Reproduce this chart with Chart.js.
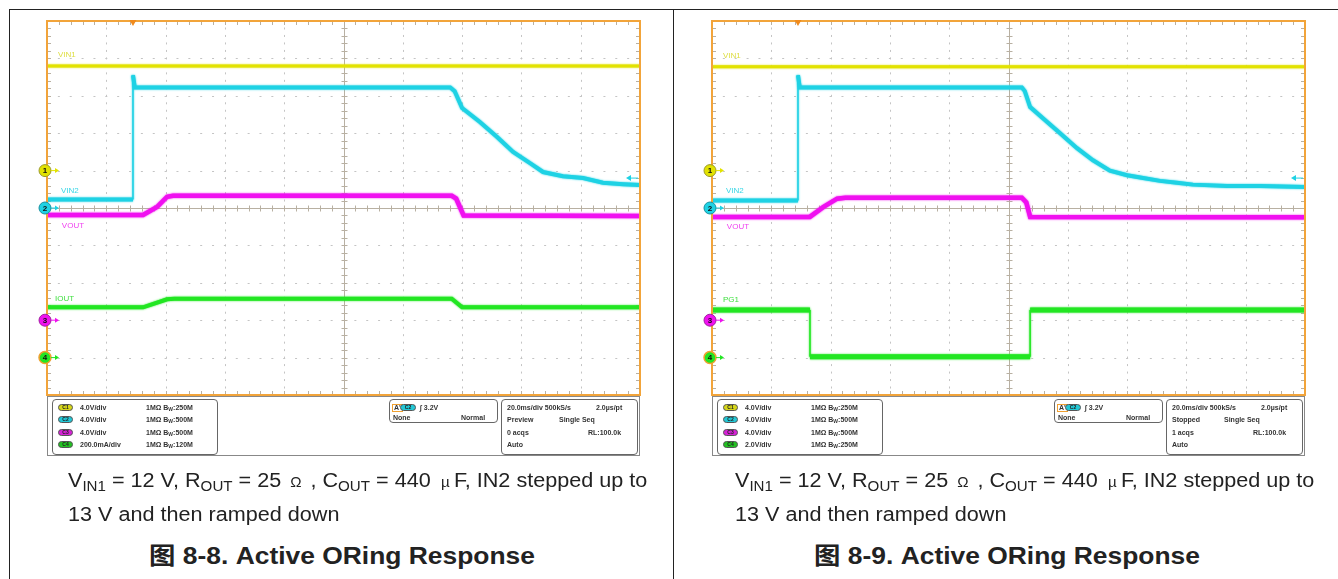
<!DOCTYPE html>
<html>
<head>
<meta charset="utf-8">
<script src="https://cdn.jsdelivr.net/npm/chart.js@4.4.1/dist/chart.umd.min.js"></script>
<style>
  body { margin:0; background:#fff; width:1338px; height:579px; overflow:hidden; position:relative; font-family:"Liberation Sans", Arial, sans-serif; }
  .frame { position:absolute; left:9px; top:9px; width:1340px; height:600px; border:1px solid #222; box-sizing:border-box; }
  .divider { position:absolute; left:673px; top:9px; width:1px; height:570px; background:#222; }
  .panel { position:absolute; top:0; width:683px; height:579px; }
  .panel canvas { position:absolute; left:27px; top:12px; }
  .status { position:absolute; left:47px; top:396px; width:593px; height:60px; border:1px solid #888; box-sizing:border-box; }
  .box { position:absolute; border:1px solid #666; border-radius:4px; box-sizing:border-box; }
  .t { position:absolute; font:bold 7px "Liberation Sans", Arial, sans-serif; color:#333; white-space:nowrap; line-height:8px; }
  .t sub { font-size:5px; vertical-align:-1px; line-height:0; }
  .pill { position:absolute; width:15px; height:7px; border-radius:4px; border:1px solid #555; box-sizing:border-box; font:bold 5px "Liberation Sans", Arial, sans-serif; color:#222; text-align:center; line-height:5px; }
  .cap { position:absolute; font:20px "Liberation Sans", Arial, sans-serif; color:#222; line-height:32px; white-space:nowrap; transform:scaleX(1.08); transform-origin:0 0; }
  .cap sub { font-size:14px; vertical-align:-4px; line-height:0; }
  .cap .sym { font-size:14px; display:inline-block; width:16px; text-align:center; }
  .title { position:absolute; font:bold 24px "Liberation Sans", "Noto Sans CJK SC", Arial, sans-serif; color:#222; text-align:center; line-height:26px; transform:scaleX(1.1); transform-origin:50% 0; }
</style>
</head>
<body>
<div class="frame"></div>
<div class="divider"></div>

<div class="panel" style="left:0">
  <canvas id="scopeA" width="625" height="390"></canvas>
  <div class="status" id="statusA"></div>
  <div class="cap" style="left:68px; top:464px">V<sub>IN1</sub> = 12 V, R<sub>OUT</sub> = 25 <span class="sym">Ω</span> , C<sub>OUT</sub> = 440 <span class="sym">µ</span>F, IN2 stepped up to<br>13 V and then ramped down</div>
  <div class="title" style="left:0; width:684px; top:543px">图 8-8. Active ORing Response</div>
</div>

<div class="panel" style="left:665px">
  <canvas id="scopeB" width="625" height="390"></canvas>
  <div class="status" id="statusB"></div>
  <div class="cap" style="left:70px; top:464px">V<sub>IN1</sub> = 12 V, R<sub>OUT</sub> = 25 <span class="sym">Ω</span> , C<sub>OUT</sub> = 440 <span class="sym">µ</span>F, IN2 stepped up to<br>13 V and then ramped down</div>
  <div class="title" style="left:0; width:684px; top:543px">图 8-9. Active ORing Response</div>
</div>

<script>
// time base (ms), trigger at 0
const timeMin = -29;
const timeMax = 171;
const msPerDiv = 20;

// ---- Fig 8-8 ----
const aVin1T = [-29, 171];
const aVin1V = [11.2, 11.2];
const aVin2T = [-29, 0, 0, 0.6, 107, 108.5, 111, 117, 122.8, 128.2, 133.9, 138.3, 145, 151.8, 158.5, 165.3, 171];
const aVin2V = [0.9, 0.9, 14.2, 12.9, 12.9, 12.5, 10.7, 9.2, 7.6, 6.0, 4.8, 3.85, 3.4, 3.2, 2.7, 2.55, 2.45];
const aVoutT = [-29, 3.4, 8.1, 11.5, 13.5, 107.5, 109, 111.5, 171];
const aVoutV = [11.25, 11.25, 12.1, 13.2, 13.3, 13.3, 13.0, 11.2, 11.15];
const aIoutT = [-29, 3.4, 11.5, 14, 107.5, 111, 171];
const aIoutV = [269, 269, 312, 315, 315, 269, 269];
const aChScale = [4, 4, 4, 200];   // units per division
const aChPos = [1, 0, -3, -4];     // ground marker, div from centre

// ---- Fig 8-9 ----
const bVin1T = [-29, 171];
const bVin1V = [11.1, 11.1];
const bVin2T = [-29, 0, 0, 0.6, 75.5, 76.5, 78.3, 82.6, 88.4, 94.1, 99.5, 105.2, 111, 116.4, 122.1, 127.8, 133.2, 144.7, 155.8, 171];
const bVin2V = [0.8, 0.8, 14.2, 12.9, 12.9, 12.5, 10.8, 9.6, 8.0, 6.4, 5.1, 4.0, 3.5, 3.2, 2.9, 2.7, 2.5, 2.35, 2.35, 2.25];
const bVoutT = [-29, 4, 8.5, 13.2, 16, 75.5, 77, 78.3, 171];
const bVoutV = [11.05, 11.05, 12.1, 13.0, 13.1, 13.1, 12.6, 11.05, 11.0];
const bPgT = [-29, 4.05, 4.05, 78.3, 78.3, 171];
const bPgV = [2.55, 2.55, 0.05, 0.05, 2.55, 2.55];
const bChScale = [4, 4, 4, 2];
const bChPos = [1, 0, -3, -4];

const trigLevel = 3.2; // C2

const chColors = ["#e2e200", "#1ed2e4", "#f010f0", "#22e622"];
const labelColors = ["#dede40", "#38d6e6", "#f040f0", "#40e040"];
const traceWidths = [3, 4, 4.5, 4];

function pts(ts, vs) {
  return ts.map((t, i) => ({ x: t, y: vs[i] }));
}

const gridPlugin = {
  id: "scopeGrid",
  beforeDatasetsDraw(chart) {
    const { ctx, chartArea: a } = chart;
    const xs = chart.scales.x, gs = chart.scales.g;
    ctx.save();
    ctx.fillStyle = "#c4c4c4";
    // dotted division lines
    for (let k = 1; k < 10; k++) {
      if (k === 5) continue;
      const x = Math.round(xs.getPixelForValue(timeMin + k * msPerDiv));
      for (let m = -25; m <= 25; m++) {
        const y = gs.getPixelForValue(m / 5);
        ctx.fillRect(x, y - 1, 1, 2);
      }
    }
    for (let k = -4; k <= 4; k++) {
      if (k === 0) continue;
      const y = Math.round(gs.getPixelForValue(k));
      for (let m = 1; m < 50; m++) {
        const x = xs.getPixelForValue(timeMin + m * msPerDiv / 5);
        ctx.fillRect(x - 1, y, 2, 1);
      }
    }
    // centre crosshair with minor ticks
    const cx = Math.round(xs.getPixelForValue(timeMin + 5 * msPerDiv)) + 0.5;
    const cy = Math.round(gs.getPixelForValue(0)) + 0.5;
    ctx.strokeStyle = "#b8b0a2";
    ctx.lineWidth = 1;
    ctx.beginPath();
    ctx.moveTo(a.left, cy); ctx.lineTo(a.right, cy);
    ctx.moveTo(cx, a.top); ctx.lineTo(cx, a.bottom);
    for (let m = 1; m < 50; m++) {
      const x = Math.round(xs.getPixelForValue(timeMin + m * msPerDiv / 5)) + 0.5;
      ctx.moveTo(x, cy - 3); ctx.lineTo(x, cy + 3);
      ctx.moveTo(x, a.top); ctx.lineTo(x, a.top + 4);
      ctx.moveTo(x, a.bottom); ctx.lineTo(x, a.bottom - 4);
    }
    for (let m = -24; m < 25; m++) {
      const y = Math.round(gs.getPixelForValue(m / 5)) + 0.5;
      ctx.moveTo(cx - 3, y); ctx.lineTo(cx + 3, y);
      ctx.moveTo(a.left, y); ctx.lineTo(a.left + 4, y);
      ctx.moveTo(a.right, y); ctx.lineTo(a.right - 4, y);
    }
    ctx.stroke();
    ctx.restore();
  },
  // soft edge on the traces, like the scope's phosphor blur
  beforeDatasetDraw(chart, args) {
    const ctx = chart.ctx;
    ctx.save();
    ctx.shadowColor = chColors[args.index];
    ctx.shadowBlur = 2;
  },
  afterDatasetDraw(chart) {
    chart.ctx.restore();
  },
  afterDatasetsDraw(chart, args, opts) {
    const { ctx, chartArea: a } = chart;
    const xs = chart.scales.x;
    ctx.save();
    // orange frame
    ctx.strokeStyle = "#f2a43a";
    ctx.lineWidth = 2;
    ctx.strokeRect(a.left, a.top, a.right - a.left, a.bottom - a.top);
    // trigger position
    const tx = xs.getPixelForValue(0);
    ctx.fillStyle = "#f08a1c";
    ctx.beginPath();
    ctx.moveTo(tx - 3.5, a.top - 1); ctx.lineTo(tx + 3.5, a.top - 1); ctx.lineTo(tx, a.top + 5);
    ctx.fill();
    // trigger level arrow on C2
    const ly = chart.scales.c2.getPixelForValue(trigLevel);
    ctx.strokeStyle = chColors[1]; ctx.fillStyle = chColors[1]; ctx.lineWidth = 1;
    ctx.beginPath(); ctx.moveTo(a.right - 12, ly); ctx.lineTo(a.right - 2, ly); ctx.stroke();
    ctx.beginPath(); ctx.moveTo(a.right - 14, ly); ctx.lineTo(a.right - 9, ly - 3); ctx.lineTo(a.right - 9, ly + 3); ctx.fill();
    // channel ground markers
    const rings = ["#9a9a30", "#1890a0", "#a020a0", "#f0a030"];
    for (let i = 0; i < 4; i++) {
      const y = chart.scales["c" + (i + 1)].getPixelForValue(0);
      const x = a.left - 2;
      ctx.beginPath(); ctx.arc(x, y, 6, 0, Math.PI * 2);
      ctx.fillStyle = chColors[i]; ctx.fill();
      ctx.lineWidth = i === 3 ? 1.5 : 1; ctx.strokeStyle = rings[i]; ctx.stroke();
      ctx.fillStyle = "#111"; ctx.font = "bold 8px 'Liberation Sans', Arial";
      ctx.textAlign = "center"; ctx.textBaseline = "middle";
      ctx.fillText(String(i + 1), x, y + 0.5);
      ctx.strokeStyle = chColors[i]; ctx.fillStyle = chColors[i]; ctx.lineWidth = 1;
      ctx.beginPath(); ctx.moveTo(x + 6, y); ctx.lineTo(x + 12, y); ctx.stroke();
      ctx.beginPath(); ctx.moveTo(x + 14, y); ctx.lineTo(x + 10, y - 2.5); ctx.lineTo(x + 10, y + 2.5); ctx.fill();
    }
    // trace labels
    ctx.font = "8px 'Liberation Sans', Arial";
    ctx.textAlign = "left"; ctx.textBaseline = "middle";
    opts.labels.forEach((l) => {
      ctx.fillStyle = labelColors[l.ch - 1];
      ctx.fillText(l.text, xs.getPixelForValue(l.t), chart.scales["c" + l.ch].getPixelForValue(l.v));
    });
    ctx.restore();
  },
};

function makeScope(id, series, chScale, chPos, labels) {
  const scales = {
    x: { type: "linear", axis: "x", position: "bottom", min: timeMin, max: timeMax, display: false },
    g: { type: "linear", axis: "y", position: "left", min: -5, max: 5, display: false },
  };
  for (let i = 0; i < 4; i++) {
    scales["c" + (i + 1)] = {
      type: "linear", axis: "y", position: "left", display: false,
      min: (-5 - chPos[i]) * chScale[i],
      max: (5 - chPos[i]) * chScale[i],
    };
  }
  new Chart(document.getElementById(id), {
    type: "line",
    data: {
      datasets: series.map((s, i) => ({
        label: s.name,
        data: pts(s.t, s.v),
        xAxisID: "x",
        yAxisID: "c" + (i + 1),
        borderColor: chColors[i],
        borderWidth: s.width || traceWidths[i],
        pointRadius: 0,
        tension: 0,
        fill: false,
        segment: {
          borderWidth: (c) => (c.p0.parsed.x === c.p1.parsed.x ? 1.5 : s.width || traceWidths[i]),
        },
      })),
    },
    options: {
      responsive: false,
      animation: false,
      layout: { padding: { left: 20, top: 9, right: 12, bottom: 7 } },
      scales,
      plugins: { legend: { display: false }, tooltip: { enabled: false }, scopeGrid: { labels } },
    },
    plugins: [gridPlugin],
  });
}

makeScope("scopeA", [
  { name: "VIN1", t: aVin1T, v: aVin1V },
  { name: "VIN2", t: aVin2T, v: aVin2V },
  { name: "VOUT", t: aVoutT, v: aVoutV },
  { name: "IOUT", t: aIoutT, v: aIoutV },
], aChScale, aChPos, [
  { text: "VIN1", ch: 1, t: -25.3, v: 12.4 },
  { text: "VIN2", ch: 2, t: -24.3, v: 1.8 },
  { text: "VOUT", ch: 3, t: -24, v: 10.1 },
  { text: "IOUT", ch: 4, t: -26.3, v: 315 },
]);

makeScope("scopeB", [
  { name: "VIN1", t: bVin1T, v: bVin1V },
  { name: "VIN2", t: bVin2T, v: bVin2V },
  { name: "VOUT", t: bVoutT, v: bVoutV },
  { name: "PG1", t: bPgT, v: bPgV, width: 5 },
], bChScale, bChPos, [
  { text: "VIN1", ch: 1, t: -25.3, v: 12.3 },
  { text: "VIN2", ch: 2, t: -24.3, v: 1.8 },
  { text: "VOUT", ch: 3, t: -24, v: 10.0 },
  { text: "PG1", ch: 4, t: -25.3, v: 3.1 },
]);

// status area under each screen
const pillColors = ["#d6d61a", "#22c8d6", "#d622d6", "#22c222"];
function buildStatus(id, vdiv, bw, state, acqs) {
  const el = document.getElementById(id);
  let html = '<div class="box" style="left:4px;top:2px;width:166px;height:56px"></div>';
  html += '<div class="box" style="left:341px;top:2px;width:109px;height:24px"></div>';
  html += '<div class="box" style="left:453px;top:2px;width:137px;height:56px"></div>';
  const rows = [7, 19, 32, 44];
  for (let i = 0; i < 4; i++) {
    html += `<div class="pill" style="left:10px;top:${rows[i]}px;background:${pillColors[i]}">C${i + 1}</div>`;
    html += `<div class="t" style="left:32px;top:${rows[i]}px">${vdiv[i]}</div>`;
    html += `<div class="t" style="left:98px;top:${rows[i]}px">1MΩ B<sub>W</sub>:${bw[i]}</div>`;
  }
  html += '<div class="t" style="left:344px;top:7px;border:1px solid #f0a030;padding:0 1px;line-height:6px">A\'</div>';
  html += `<div class="pill" style="left:352px;top:7px;width:16px;background:${pillColors[1]}">C2</div>`;
  html += '<div class="t" style="left:372px;top:7px">&#x222B; 3.2V</div>';
  html += '<div class="t" style="left:345px;top:17px">None</div>';
  html += '<div class="t" style="left:413px;top:17px">Normal</div>';
  html += '<div class="t" style="left:459px;top:7px">20.0ms/div 500kS/s</div>';
  html += '<div class="t" style="left:548px;top:7px">2.0µs/pt</div>';
  html += `<div class="t" style="left:459px;top:19px">${state}</div>`;
  html += '<div class="t" style="left:511px;top:19px">Single Seq</div>';
  html += `<div class="t" style="left:459px;top:32px">${acqs}</div>`;
  html += '<div class="t" style="left:540px;top:32px">RL:100.0k</div>';
  html += '<div class="t" style="left:459px;top:44px">Auto</div>';
  el.innerHTML = html;
}
buildStatus("statusA", ["4.0V/div", "4.0V/div", "4.0V/div", "200.0mA/div"], ["250M", "500M", "500M", "120M"], "Preview", "0 acqs");
buildStatus("statusB", ["4.0V/div", "4.0V/div", "4.0V/div", "2.0V/div"], ["250M", "500M", "500M", "250M"], "Stopped", "1 acqs");
</script>
</body>
</html>
